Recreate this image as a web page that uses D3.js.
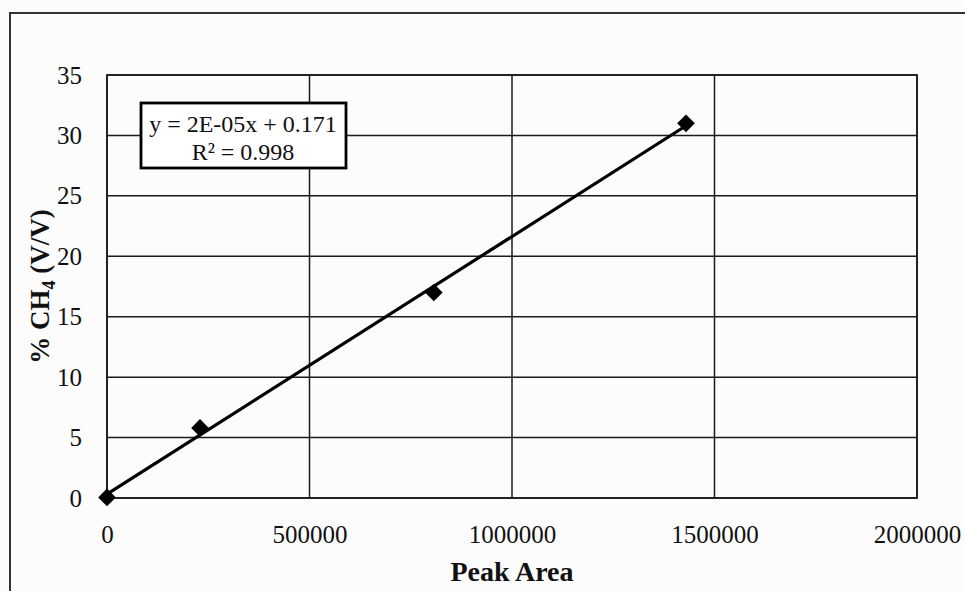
<!DOCTYPE html>
<html>
<head>
<meta charset="utf-8">
<script src="https://cdn.jsdelivr.net/npm/d3@7"></script>
<style>
  html, body { margin: 0; padding: 0; background: #fcfcfc; }
  svg { display: block; }
  svg text { font-family: "Liberation Serif", Tinos, "Times New Roman", Times, "DejaVu Serif", serif !important; fill: #111; }
</style>
</head>
<body>
<svg id="chart" width="965" height="591"></svg>
<script>
// ---- data ----
const peakArea = [0, 229600, 807000, 1429600];
const ch4Percent = [0.05, 5.8, 17.0, 31.0];
const xTicks = [0, 500000, 1000000, 1500000, 2000000];
const yTicks = [0, 5, 10, 15, 20, 25, 30, 35];
const equationLines = ["y = 2E-05x + 0.171", "R\u00B2 = 0.998"];
const xTitle = "Peak Area";

const svg = d3.select("#chart");
const W = 965, H = 591;
const plot = { left: 107, right: 917, top: 75, bottom: 498 };

const x = d3.scaleLinear().domain([0, 2000000]).range([plot.left, plot.right]);
const y = d3.scaleLinear().domain([0, 35]).range([plot.bottom, plot.top]);

// outer chart border (only top and left visible in the crop)
svg.append("path")
  .attr("d", `M10,${H + 5} L10,13 L${W + 5},13`)
  .attr("fill", "none").attr("stroke", "#333").attr("stroke-width", 2);

// gridlines
const grid = svg.append("g");
grid.selectAll("line.h").data(yTicks).join("line")
  .attr("x1", plot.left).attr("x2", plot.right)
  .attr("y1", d => y(d)).attr("y2", d => y(d))
  .attr("stroke", "#1a1a1a").attr("stroke-width", 1.5);
grid.selectAll("line.v").data(xTicks).join("line")
  .attr("y1", plot.top).attr("y2", plot.bottom)
  .attr("x1", d => x(d)).attr("x2", d => x(d))
  .attr("stroke", "#1a1a1a").attr("stroke-width", 1.5);

// plot border
svg.append("rect")
  .attr("x", plot.left).attr("y", plot.top)
  .attr("width", plot.right - plot.left).attr("height", plot.bottom - plot.top)
  .attr("fill", "none").attr("stroke", "#1a1a1a").attr("stroke-width", 1.7);

const serif = "Liberation Serif, Tinos, Times New Roman, serif";

// axes (labels only, via d3 axis generators)
const xAxis = svg.append("g")
  .attr("transform", `translate(0,${plot.bottom})`)
  .call(d3.axisBottom(x).tickValues(xTicks).tickFormat(d3.format("d")).tickSize(0).tickPadding(27));
xAxis.attr("font-family", serif).attr("font-size", 25);
xAxis.select(".domain").remove();
xAxis.selectAll("text").attr("fill", "#111");

const yAxis = svg.append("g")
  .attr("transform", `translate(${plot.left},0)`)
  .call(d3.axisLeft(y).tickValues(yTicks).tickFormat(d3.format("d")).tickSize(0).tickPadding(25));
yAxis.attr("font-family", serif).attr("font-size", 25);
yAxis.select(".domain").remove();
yAxis.selectAll("text").attr("fill", "#111");

// regression trendline (least squares from the data)
const n = peakArea.length;
const mx = d3.mean(peakArea), my = d3.mean(ch4Percent);
let sxy = 0, sxx = 0;
for (let i = 0; i < n; i++) {
  sxy += (peakArea[i] - mx) * (ch4Percent[i] - my);
  sxx += (peakArea[i] - mx) ** 2;
}
const slope = sxy / sxx, intercept = my - slope * mx;
const xs = d3.extent(peakArea);
svg.append("line")
  .attr("x1", x(xs[0])).attr("y1", y(intercept + slope * xs[0]))
  .attr("x2", x(xs[1])).attr("y2", y(intercept + slope * xs[1]))
  .attr("stroke", "#000").attr("stroke-width", 3.2);

// markers (square rotated 45 degrees)
svg.append("g").selectAll("path").data(peakArea.map((v, i) => [v, ch4Percent[i]])).join("path")
  .attr("transform", d => `translate(${x(d[0])},${y(d[1])}) rotate(45)`)
  .attr("d", d3.symbol(d3.symbolSquare, 156))
  .attr("fill", "#000");

// equation box
const box = svg.append("g").attr("font-family", serif);
box.append("rect")
  .attr("x", 141).attr("y", 103).attr("width", 205).attr("height", 65)
  .attr("fill", "#fff").attr("stroke", "#000").attr("stroke-width", 2.8);
box.selectAll("text").data(equationLines).join("text")
  .attr("x", 243).attr("y", (d, i) => 132 + i * 28)
  .attr("text-anchor", "middle")
  .attr("font-size", 24)
  .text(d => d);

// axis titles
svg.append("text")
  .attr("x", (plot.left + plot.right) / 2).attr("y", 581)
  .attr("text-anchor", "middle")
  .attr("font-family", serif)
  .attr("font-size", 28).attr("font-weight", "bold")
  .text(xTitle);

const yTitle = svg.append("text")
  .attr("transform", `translate(49,${(plot.top + plot.bottom) / 2}) rotate(-90)`)
  .attr("text-anchor", "middle")
  .attr("font-family", serif)
  .attr("font-size", 27).attr("font-weight", "bold");
yTitle.append("tspan").text("% CH");
yTitle.append("tspan").attr("dy", 6).attr("font-size", 18).text("4");
yTitle.append("tspan").attr("dy", -6).text(" (V/V)");
</script>
</body>
</html>
